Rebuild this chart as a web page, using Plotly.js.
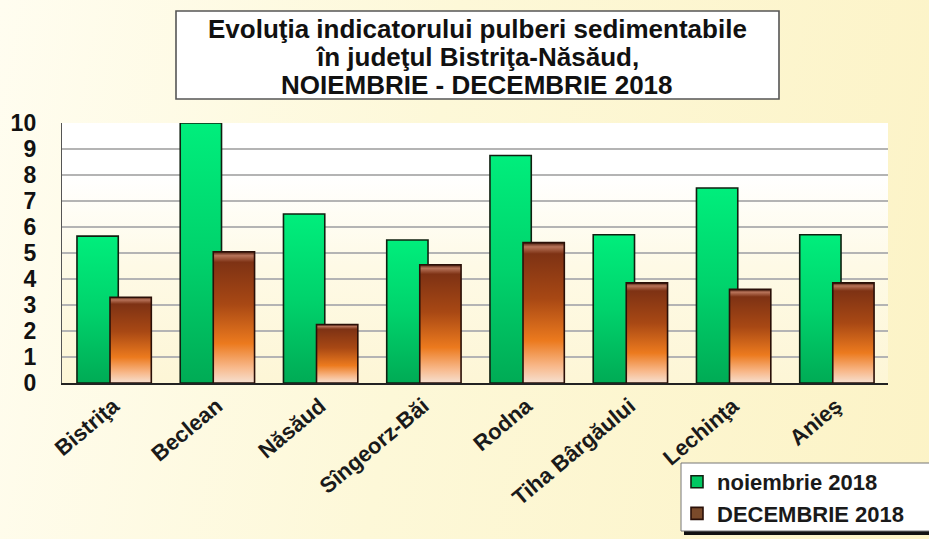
<!DOCTYPE html>
<html>
<head>
<meta charset="utf-8">
<script src="https://cdn.plot.ly/plotly-3.0.1.min.js"></script>
<style>
  html, body { margin:0; padding:0; }
  body { width:929px; height:539px; background: linear-gradient(100deg, #fffdf0 0%, #fdf8d8 45%, #fcf3c6 100%); }
  #chart { width:929px; height:539px; }
</style>
</head>
<body>
<div id="chart"></div>
<script>
const categories = ["Bistriţa", "Beclean", "Năsăud", "Sîngeorz-Băi", "Rodna", "Tiha Bârgăului", "Lechinţa", "Anieş"];
const noiembrie2018 = [5.65, 10.0, 6.5, 5.5, 8.75, 5.7, 7.5, 5.7];
const decembrie2018 = [3.3, 5.05, 2.25, 4.55, 5.4, 3.85, 3.6, 3.85];
const seriesNames = ["noiembrie 2018", "DECEMBRIE 2018"];
const yTicks = [0,1,2,3,4,5,6,7,8,9,10];
const titleLines = ["Evoluţia indicatorului pulberi sedimentabile", "în judeţul Bistriţa-Năsăud,", "NOIEMBRIE - DECEMBRIE 2018"];

const FONT = "Liberation Sans, Arial, Helvetica, sans-serif";
const W = 929, H = 539;
const PL = 62, PR = 888, PT = 123, PB = 383;
const px = v => (v - PL) / (PR - PL);
const py = v => (PB - v) / (PB - PT);

const traces = [
  {
    type: 'bar', name: seriesNames[0], x: categories, y: noiembrie2018,
    width: 0.4, offset: -0.355, legendgroup: 'a',
    marker: { color: '#00c862', line: { color: '#102010', width: 1.6 } }
  },
  {
    type: 'bar', name: seriesNames[1], x: categories, y: decembrie2018,
    width: 0.4, offset: -0.035, legendgroup: 'b',
    marker: { color: '#7a4a2a', line: { color: '#2a1008', width: 1.6 } }
  }
];

const titleY = [29, 57, 85];
const annotations = titleLines.map((t, i) => ({
  xref: 'paper', yref: 'paper', x: px(477), y: py(titleY[i]),
  xanchor: 'center', yanchor: 'middle', showarrow: false,
  text: t, font: { family: FONT, size: 26, color: '#111111', weight: 'bold' }
}));

const layout = {
  width: W, height: H,
  margin: { l: PL, r: W - PR, t: PT, b: H - PB, pad: 0, autoexpand: false },
  paper_bgcolor: 'rgba(0,0,0,0)',
  plot_bgcolor: '#fefbe8',
  barmode: 'overlay',
  showlegend: true,
  legend: {
    xref: 'container', yref: 'container',
    x: 677 / W, y: 1 - 461 / H, xanchor: 'left', yanchor: 'top',
    bgcolor: 'rgba(0,0,0,0)', borderwidth: 0,
    font: { family: FONT, size: 22, color: '#1a1a1a', weight: 'bold' },
    tracegroupgap: 7, itemwidth: 30, traceorder: 'normal'
  },
  xaxis: {
    type: 'category',
    tickangle: -40, automargin: false,
    tickfont: { family: FONT, size: 22, color: '#1a1a1a', weight: 'bold' },
    showline: true, linecolor: '#222222', linewidth: 1.5,
    ticks: '', showgrid: false, fixedrange: true
  },
  yaxis: {
    range: [0, 10], automargin: false,
    tickvals: yTicks, ticktext: yTicks.map(String),
    tickfont: { family: FONT, size: 23, color: '#111111', weight: 'bold' },
    showline: true, linecolor: '#555555', linewidth: 1.2,
    showgrid: true, gridcolor: '#b4b4b4', gridwidth: 1.2,
    zeroline: false, ticks: '', ticklabelstandoff: 20, fixedrange: true
  },
  annotations: annotations,
  shapes: [
    { type: 'rect', xref: 'paper', yref: 'paper', layer: 'below',
      x0: px(176), x1: px(779), y0: py(99), y1: py(11),
      fillcolor: '#ffffff', line: { color: '#555555', width: 1.6 } },
    { type: 'rect', xref: 'paper', yref: 'paper', layer: 'below',
      x0: px(684), x1: px(935), y0: py(535), y1: py(466),
      fillcolor: '#111111', line: { width: 0 } },
    { type: 'rect', xref: 'paper', yref: 'paper', layer: 'below',
      x0: px(681), x1: px(935), y0: py(531), y1: py(463),
      fillcolor: '#ffffff', line: { color: '#777777', width: 1 } }
  ]
};

Plotly.newPlot('chart', traces, layout, { displayModeBar: false, staticPlot: true }).then(function (gd) {
  const svg = gd.querySelector('svg.main-svg');
  const NS = 'http://www.w3.org/2000/svg';
  let defs = svg.querySelector('defs');
  if (!defs) { defs = document.createElementNS(NS, 'defs'); svg.insertBefore(defs, svg.firstChild); }
  function grad(id, stops, horiz) {
    const g = document.createElementNS(NS, 'linearGradient');
    g.setAttribute('id', id);
    g.setAttribute('x1', '0'); g.setAttribute('y1', '0');
    g.setAttribute('x2', horiz ? '1' : '0'); g.setAttribute('y2', horiz ? '0' : '1');
    stops.forEach(function (s) {
      const st = document.createElementNS(NS, 'stop');
      st.setAttribute('offset', s[0]); st.setAttribute('stop-color', s[1]);
      g.appendChild(st);
    });
    defs.appendChild(g);
  }
  grad('gGreen', [[0, '#00ee7c'], [0.5, '#00d36c'], [1, '#00ab55']]);
  grad('gBrown', [[0, '#4a1a0a'], [0.03, '#b8745a'], [0.08, '#7e3214'], [0.4, '#a84814'], [0.7, '#ec7a1e'], [0.88, '#f8b88a'], [1, '#f6e0d0']]);
  grad('gPlot', [[0, '#ffffff'], [0.2, '#ffffff'], [0.55, '#fefae6'], [1, '#fdf6d6']]);
  gd.querySelectorAll('.barlayer .trace').forEach(function (t, i) {
    t.querySelectorAll('.point path').forEach(function (p) {
      p.style.fill = i === 0 ? 'url(#gGreen)' : 'url(#gBrown)';
    });
  });
  const bg = gd.querySelector('.bglayer rect');
  if (bg) bg.style.fill = 'url(#gPlot)';
});
</script>
</body>
</html>
